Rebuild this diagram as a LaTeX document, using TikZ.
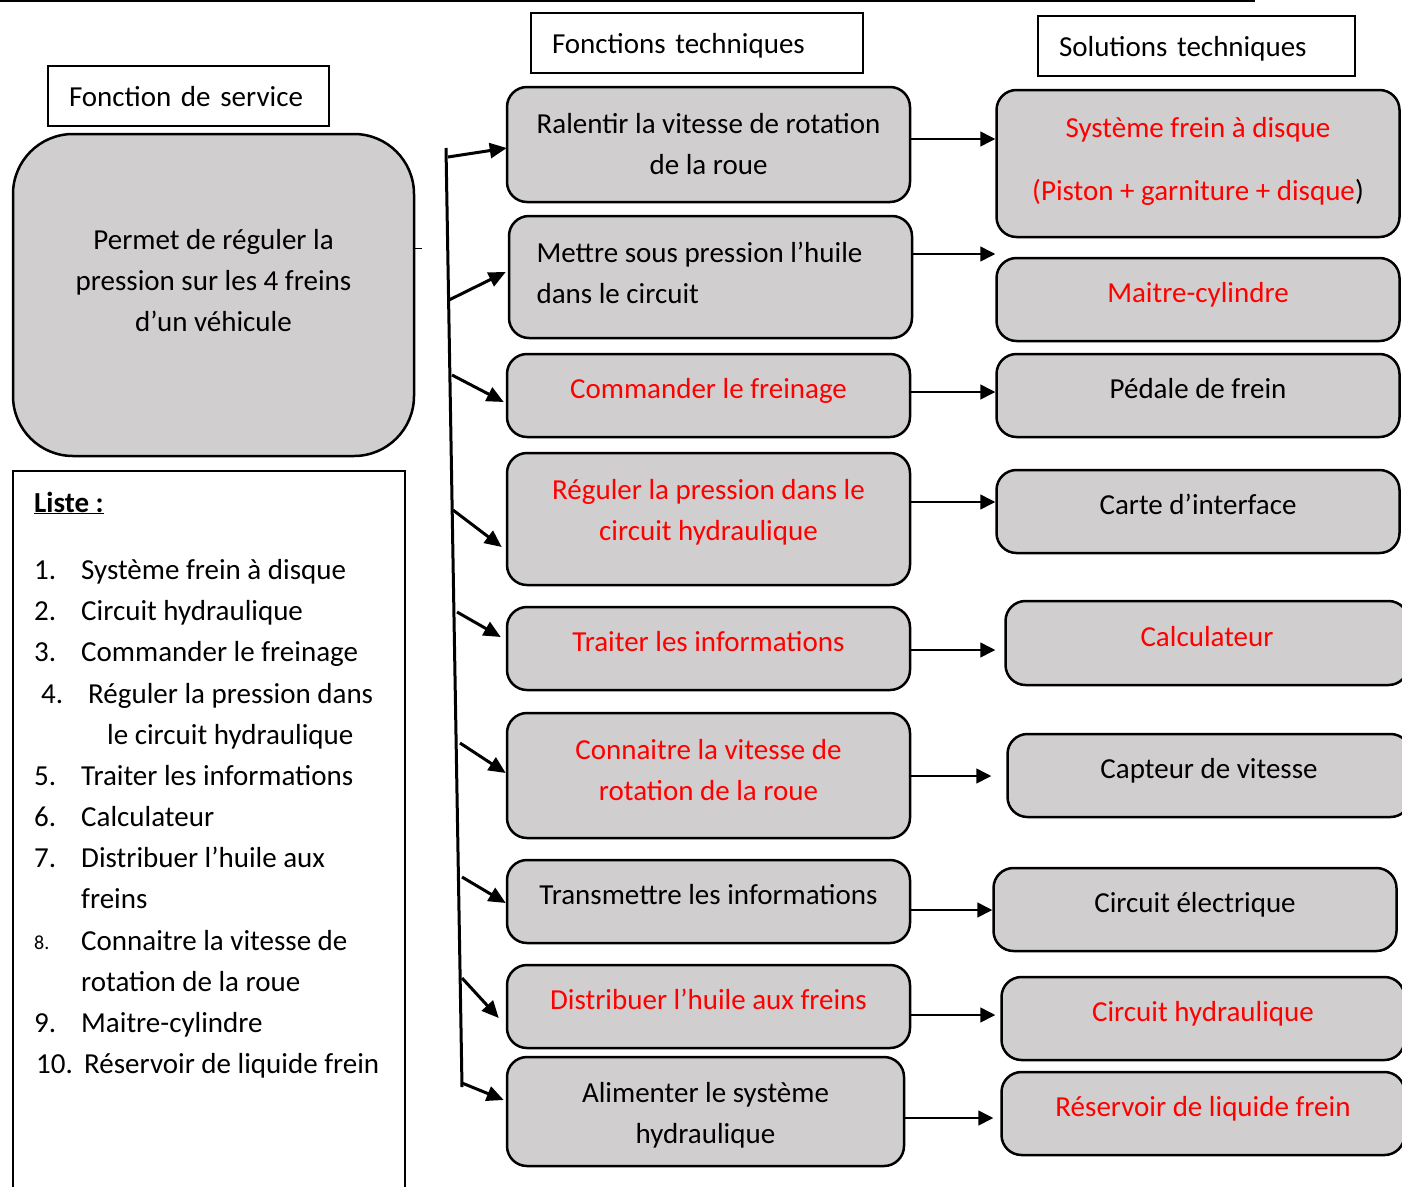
\documentclass[tikz,border=0pt]{standalone}
\usepackage{fontspec}
\setmainfont{Carlito}
\usetikzlibrary{arrows.meta,calc}
\definecolor{boxgray}{RGB}{208,206,206}
\newcommand{\ml}[2][c]{\begin{tabular}{@{}#1@{}}#2\end{tabular}}

\begin{document}
\begin{tikzpicture}[x=1pt,y=-1pt,font=\fontsize{29}{41}\selectfont,
    titre/.style={draw=black,line width=1.5pt,inner xsep=21pt,align=left,minimum height=60pt,text height=24pt,text depth=4pt},
    bloc/.style={draw=black,fill=boxgray,line width=2.5pt,rounded corners=20pt,minimum width=403pt},
    one/.style={text height=20pt,text depth=14pt},
    lift/.style={text height=48pt,text depth=#1},
    lift/.default=28pt,
    rouge/.style={text=red},
    liste/.style={anchor=base west,inner sep=0pt},
    fleche/.style={line width=3pt,-{Triangle[length=17pt,width=15pt]}},
    trait/.style={line width=1.5pt,-{Triangle[length=15pt,width=15pt]}}]
    \useasboundingbox (0,0) rectangle (1402,1186);
    \clip (0,0) rectangle (1402,1186);

    \draw[line width=2pt] (0,1) -- (1255,1);

    \node[titre,text width=239pt] (hsvc) at (188.5,96) {Fonction de service};
    \node[titre,text width=290pt] (hft) at (697,43) {Fonctions techniques};
    \node[titre,text width=275pt] (hst) at (1196.5,46) {Solutions techniques};

    \node[bloc,rounded corners=60pt,minimum width=401pt,minimum height=322pt,text height=68.75pt,text depth=81pt] (svc) at (213.5,295)
        {\ml{Permet de réguler la\\pression sur les 4 freins\\d’un véhicule}};
    \draw[line width=1pt] (svc.east) ++(0,-47) -- ++(7,0);

    \node[bloc,minimum height=115pt,lift=32pt] (f1) at (708.5,144.5) {\ml{Ralentir la vitesse de rotation\\de la roue}};
    \node[bloc,minimum height=122pt,lift=40pt] (f2) at (710.5,277) {\ml[l]{Mettre sous pression l’huile\\dans le circuit}\kern22pt};
    \node[bloc,minimum height=83pt,one,rouge] (f3) at (708.5,395.5) {Commander le freinage};
    \node[bloc,minimum height=132pt,lift=49pt,rouge] (f4) at (708.5,519) {\ml{Réguler la pression dans le\\circuit hydraulique}};
    \node[bloc,minimum height=83pt,one,rouge] (f5) at (708.5,648.5) {Traiter les informations};
    \node[bloc,minimum height=125pt,lift=43pt,rouge] (f6) at (708.5,775.5) {\ml{Connaitre la vitesse de\\rotation de la roue}};
    \node[bloc,minimum height=83pt,one] (f7) at (708.5,901.5) {Transmettre les informations};
    \node[bloc,minimum height=83pt,one,rouge] (f8) at (708.5,1006.5) {Distribuer l’huile aux freins};
    \node[bloc,minimum width=397pt,minimum height=109pt,lift] (f9) at (705.5,1111.5) {\ml{Alimenter le système\\hydraulique}};

    \node[bloc,minimum height=147pt,text height=59.25pt,text depth=51.5pt,rouge] (s1) at (1198,163.5)
        {\ml{Système frein à disque\\[22pt](Piston + garniture + disque\textcolor{black}{)}}};
    \node[bloc,minimum height=83pt,one,rouge] (s2) at (1198,299.5) {Maitre-cylindre};
    \node[bloc,minimum height=83pt,one] (s3) at (1198,395.5) {Pédale de frein};
    \node[bloc,minimum height=83pt,one] (s4) at (1198,511.5) {Carte d’interface};
    \node[bloc,minimum height=84pt,one,rouge] (s5) at (1207,643) {Calculateur};
    \node[bloc,minimum height=83pt,one] (s6) at (1209,775.5) {Capteur de vitesse};
    \node[bloc,minimum height=83pt,one] (s7) at (1195,909.5) {Circuit électrique};
    \node[bloc,minimum height=83pt,one,rouge] (s8) at (1203,1018.5) {Circuit hydraulique};
    \node[bloc,minimum height=83pt,one,rouge] (s9) at (1203,1113.5) {Réservoir de liquide frein};

    \draw[line width=3pt] (446,148) coordinate (haut) -- (462,1087) coordinate (bas);
    \foreach \i/\sx/\sy/\dx/\dy in {1/448/157/1/3.5, 2/449/300/-2/-5, 3/452/375/-2/6.5, 4/453/510/-4/28,
        5/457/612/-5/-11.5, 6/460/743/0/-2.5, 7/462/877/0/1.5, 8/462/978/-7/11.5, 9/462/1083/-2/-11.5}{
        \coordinate (b\i) at (\sx,\sy);
        \draw[fleche] (b\i) -- ($(f\i.west)+(\dx,\dy)$);
    }

    \foreach \i/\dy/\sh in {1/-5.5/0pt, 2/-23/0pt, 3/-3.5/0pt, 4/-17/0pt, 5/1.5/9pt, 6/0.5/15pt, 7/8.5/0pt, 8/8.5/5pt, 9/6.5/7pt}{
        \coordinate (d\i) at ($(f\i.east)+(0,\dy)$);
        \draw[trait,shorten >=\sh] (d\i) -- (d\i -| s\i.west);
    }

    \draw[line width=2pt] (13,1190) -- (13,471) -- (405,471) -- (405,1190);
    \node[liste,font=\fontsize{29}{41}\selectfont\bfseries] (tliste) at (34,512) {\underline{Liste :}};
    \foreach \nb/\xx/\yy in {1/34/569, 2/34/610, 3/34/651, 4/41/693, 5/34/775, 6/34/816, 7/34/857, 9/34/1022, 10/36/1063}
        \node[liste] (num\nb) at (\xx,\yy+10) {\nb.};
    \node[liste,font=\fontsize{20}{24}\selectfont] (num8) at (34,949) {8.};
    \foreach \t/\xx/\yy/\txt in {1/81/569/Système frein à disque, 2/81/610/Circuit hydraulique, 3/81/651/Commander le freinage,
        4/88/693/Réguler la pression dans, 5/107/734/le circuit hydraulique, 6/81/775/Traiter les informations,
        7/81/816/Calculateur, 8/81/857/Distribuer l’huile aux, 9/81/898/freins, 10/81/940/Connaitre la vitesse de,
        11/81/981/rotation de la roue, 12/81/1022/Maitre-cylindre, 13/84/1063/Réservoir de liquide frein}
        \node[liste] (item\t) at (\xx,\yy+10) {\txt};
\end{tikzpicture}
\end{document}
